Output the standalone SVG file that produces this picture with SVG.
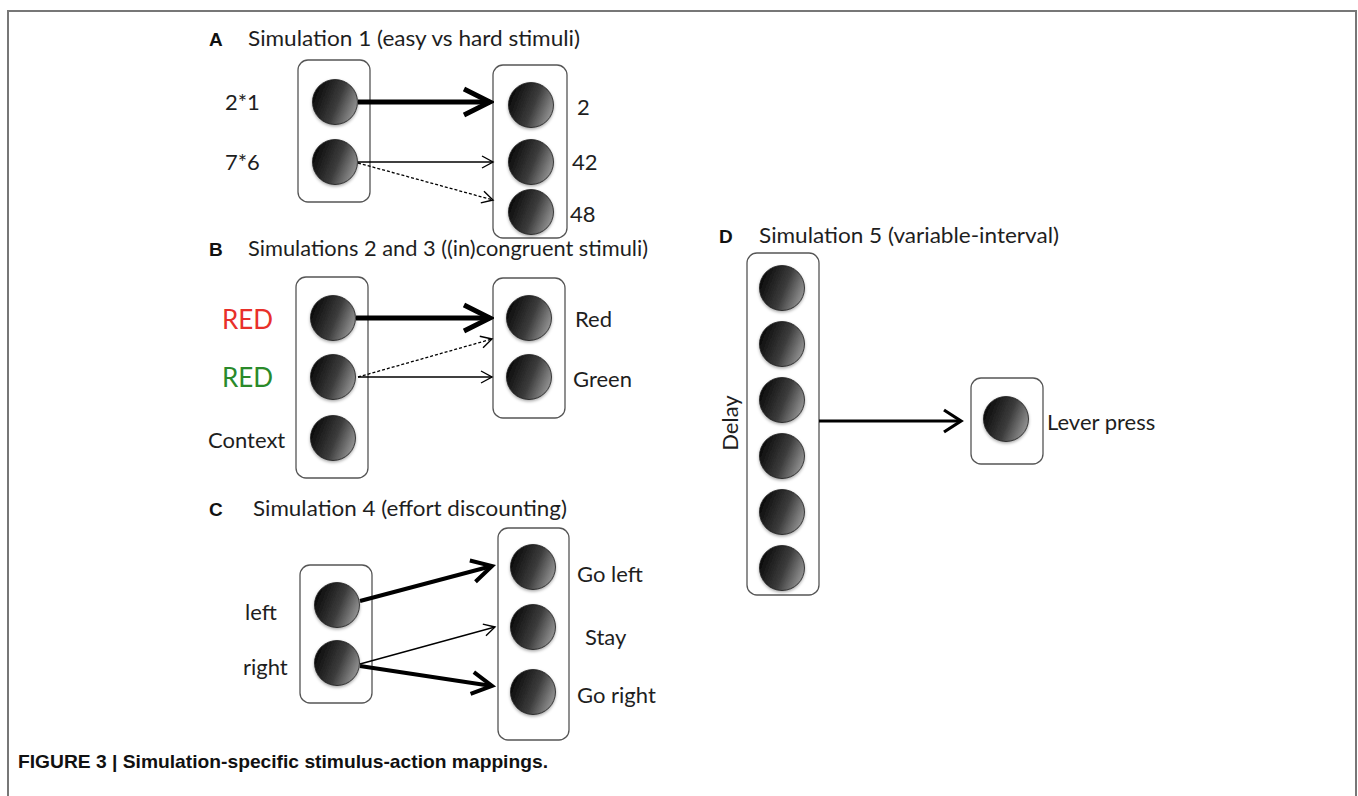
<svg xmlns="http://www.w3.org/2000/svg" width="1358" height="796" viewBox="0 0 1358 796">
<style>
.frame{fill:none;stroke:#777;stroke-width:2}
.box{fill:#fff;stroke:#555;stroke-width:1.3}
.unit{fill:url(#ball);stroke:#1a1a1a;stroke-width:0.8;filter:url(#sh)}
.t{font-family:Lato,"Open Sans","Liberation Sans",sans-serif;font-size:22px;fill:#1e1e1e}
.big{font-size:26px}
.letter{font-family:"Liberation Sans",Arial,sans-serif;font-weight:bold;font-size:19px;fill:#111}
.cap{font-family:"Liberation Sans Narrow","Liberation Sans",Arial,sans-serif;font-weight:bold;font-size:19px;fill:#111}
.thick{fill:none;stroke:#000;stroke-width:5}
.med{fill:none;stroke:#000;stroke-width:4}
.d{fill:none;stroke:#000;stroke-width:3}
.thin{fill:none;stroke:#000;stroke-width:1.3}
.dash{fill:none;stroke:#000;stroke-width:1.3;stroke-dasharray:3 2}
</style>
<defs>
<linearGradient id="ball" x1="0" y1="0.3" x2="1" y2="0.7">
<stop offset="0" stop-color="#080808"/>
<stop offset="0.55" stop-color="#3c3c3c"/>
<stop offset="1" stop-color="#9a9a9a"/>
</linearGradient>
<filter id="sh" x="-30%" y="-30%" width="160%" height="170%">
<feDropShadow dx="0" dy="1.5" stdDeviation="1.5" flood-color="#000" flood-opacity="0.35"/>
</filter>
<marker id="hBig" markerUnits="userSpaceOnUse" viewBox="-30 -16 34 32" refX="0" refY="0" markerWidth="34" markerHeight="32" orient="auto">
<path d="M-26,-13 L0,0 L-26,13" fill="none" stroke="#000" stroke-width="5" stroke-linejoin="miter" stroke-miterlimit="10"/>
</marker>
<marker id="hMed" markerUnits="userSpaceOnUse" viewBox="-26 -14 30 28" refX="0" refY="0" markerWidth="30" markerHeight="28" orient="auto">
<path d="M-20,-11 L0,0 L-20,11" fill="none" stroke="#000" stroke-width="4" stroke-linejoin="miter" stroke-miterlimit="10"/>
</marker>
<marker id="hD" markerUnits="userSpaceOnUse" viewBox="-22 -14 26 28" refX="0" refY="0" markerWidth="26" markerHeight="28" orient="auto">
<path d="M-17,-11 L0,0 L-17,11" fill="none" stroke="#000" stroke-width="3.2" stroke-linejoin="miter" stroke-miterlimit="10"/>
</marker>
<marker id="hThin" markerUnits="userSpaceOnUse" viewBox="-14 -8 16 16" refX="0" refY="0" markerWidth="16" markerHeight="16" orient="auto">
<path d="M-11,-6 L0,0 L-11,6" fill="none" stroke="#000" stroke-width="1.4"/>
</marker>
</defs>
<rect width="1358" height="796" fill="#fff"/>
<path class="frame" d="M8,796 V11 H1356 V796"/>

<g id="panelA">
<text class="letter" x="209" y="46">A</text>
<text class="t" x="248" y="46" textLength="332" lengthAdjust="spacingAndGlyphs">Simulation 1 (easy vs hard stimuli)</text>
<g id="A-in">
<rect class="box" x="298" y="60" width="72" height="142" rx="10"/>
<circle class="unit" cx="335" cy="102" r="22.5"/>
<circle class="unit" cx="335" cy="162" r="22.5"/>
<text class="t" x="225" y="110">2*1</text>
<text class="t" x="225" y="170">7*6</text>
</g>
<g id="A-out">
<rect class="box" x="493" y="65" width="74" height="173" rx="10"/>
<circle class="unit" cx="531" cy="105" r="22.5"/>
<circle class="unit" cx="531" cy="162" r="22.5"/>
<circle class="unit" cx="531" cy="212" r="22.5"/>
<text class="t" x="577" y="115">2</text>
<text class="t" x="572" y="170">42</text>
<text class="t" x="570" y="222">48</text>
</g>
</g>

<g id="panelB">
<text class="letter" x="209" y="256">B</text>
<text class="t" x="248" y="256" textLength="400" lengthAdjust="spacingAndGlyphs">Simulations 2 and 3 ((in)congruent stimuli)</text>
<g id="B-in">
<rect class="box" x="296" y="277" width="72" height="201" rx="10"/>
<circle class="unit" cx="333" cy="318" r="22.5"/>
<circle class="unit" cx="333" cy="377" r="22.5"/>
<circle class="unit" cx="333" cy="438" r="22.5"/>
<text class="t big" x="222" y="329" style="fill:#e8302a">RED</text>
<text class="t big" x="222" y="387" style="fill:#2a8a2a">RED</text>
<text class="t" x="208" y="448">Context</text>
</g>
<g id="B-out">
<rect class="box" x="493" y="278" width="72" height="140" rx="10"/>
<circle class="unit" cx="529" cy="318" r="22.5"/>
<circle class="unit" cx="529" cy="377" r="22.5"/>
<text class="t" x="575" y="327">Red</text>
<text class="t" x="573" y="387">Green</text>
</g>
</g>

<g id="panelC">
<text class="letter" x="209" y="516">C</text>
<text class="t" x="253" y="516" textLength="314" lengthAdjust="spacingAndGlyphs">Simulation 4 (effort discounting)</text>
<g id="C-in">
<rect class="box" x="300" y="565" width="72" height="138" rx="10"/>
<circle class="unit" cx="337" cy="605" r="22.5"/>
<circle class="unit" cx="337" cy="663" r="22.5"/>
<text class="t" x="245" y="620">left</text>
<text class="t" x="243" y="675">right</text>
</g>
<g id="C-out">
<rect class="box" x="498" y="528" width="71" height="212" rx="10"/>
<circle class="unit" cx="533" cy="567" r="22.5"/>
<circle class="unit" cx="533" cy="627" r="22.5"/>
<circle class="unit" cx="533" cy="692" r="22.5"/>
<text class="t" x="577" y="582">Go left</text>
<text class="t" x="585" y="645">Stay</text>
<text class="t" x="577" y="703">Go right</text>
</g>
</g>

<g id="panelD">
<text class="letter" x="719" y="243">D</text>
<text class="t" x="759" y="243" textLength="300" lengthAdjust="spacingAndGlyphs">Simulation 5 (variable-interval)</text>
<g id="D-delay">
<rect class="box" x="747" y="253" width="72" height="342" rx="10"/>
<circle class="unit" cx="782" cy="288" r="22.5"/>
<circle class="unit" cx="782" cy="344" r="22.5"/>
<circle class="unit" cx="782" cy="400" r="22.5"/>
<circle class="unit" cx="782" cy="456" r="22.5"/>
<circle class="unit" cx="782" cy="512" r="22.5"/>
<circle class="unit" cx="782" cy="568" r="22.5"/>
<text class="t" transform="translate(738,423) rotate(-90)" text-anchor="middle">Delay</text>
</g>
<g id="D-lever">
<rect class="box" x="971" y="378" width="72" height="86" rx="10"/>
<circle class="unit" cx="1006" cy="419" r="22.5"/>
<text class="t" x="1047" y="430">Lever press</text>
</g>
</g>

<g id="connectors">
<line class="thick" x1="358" y1="102" x2="490" y2="102" marker-end="url(#hBig)"/>
<line class="thin" x1="358" y1="162" x2="493" y2="162" marker-end="url(#hThin)"/>
<line class="dash" x1="358" y1="163" x2="493" y2="200" marker-end="url(#hThin)"/>
<line class="thick" x1="356" y1="318" x2="490" y2="318" marker-end="url(#hBig)"/>
<line class="dash" x1="358" y1="377" x2="492" y2="339" marker-end="url(#hThin)"/>
<line class="thin" x1="358" y1="377" x2="492" y2="377" marker-end="url(#hThin)"/>
<line class="med" x1="360" y1="601" x2="492" y2="566" marker-end="url(#hMed)"/>
<line class="thin" x1="360" y1="664" x2="495" y2="627" marker-end="url(#hThin)"/>
<line class="med" x1="360" y1="666" x2="492" y2="686" marker-end="url(#hMed)"/>
<line class="d" x1="819" y1="421" x2="961" y2="421" marker-end="url(#hD)"/>
</g>

<text class="cap" x="18" y="768" textLength="530" lengthAdjust="spacingAndGlyphs">FIGURE 3 | Simulation-specific stimulus-action mappings.</text>
</svg>
